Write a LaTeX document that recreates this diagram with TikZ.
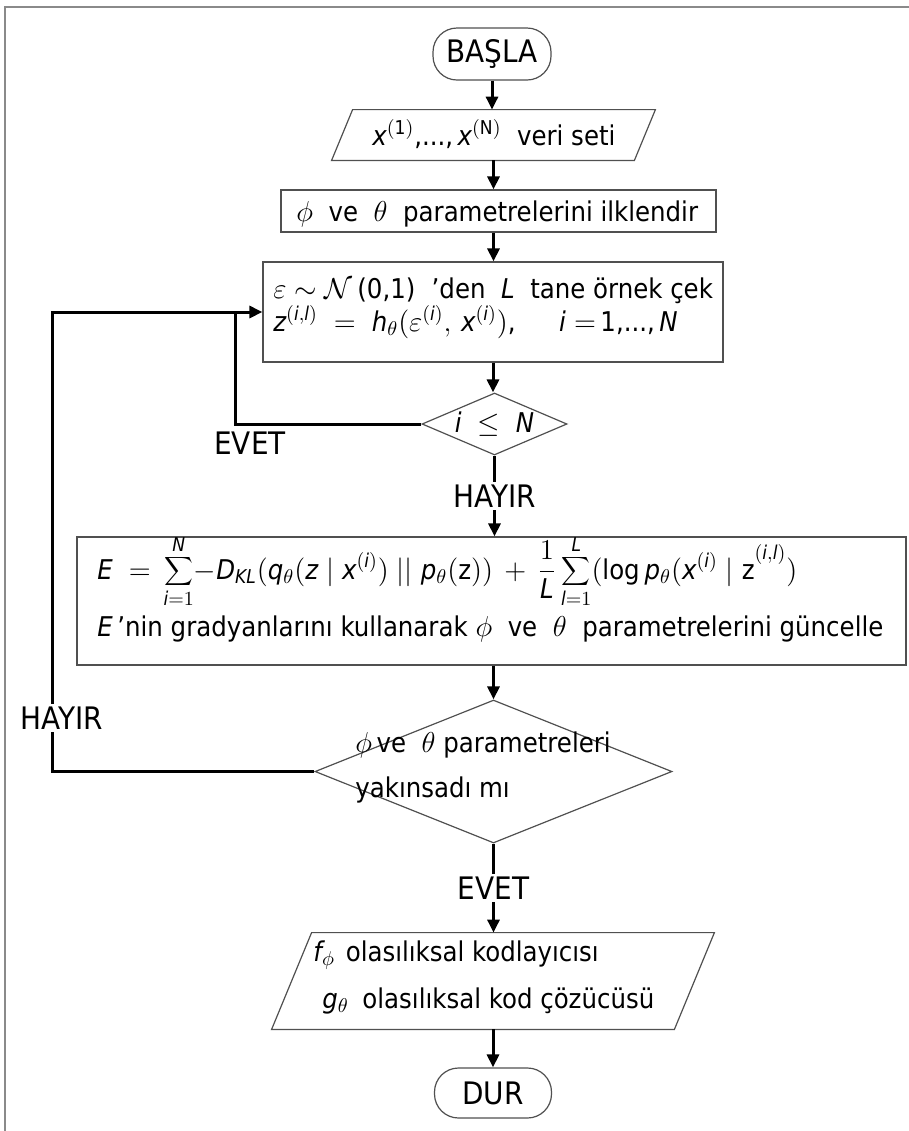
\documentclass[tikz,border=0pt]{standalone}
\usepackage{fontspec}
\setmainfont{DejaVu Sans Condensed}
\usetikzlibrary{shapes.geometric,arrows.meta}
\definecolor{boxgray}{HTML}{505050}
\definecolor{framegray}{HTML}{8A8A8A}
\newcommand\mtext{\fontsize{13.6}{16}\selectfont}
\newcommand\ltext{\fontsize{15.5}{18}\selectfont}
\newcommand\iv[1]{\mathit{#1}}

\begin{document}
\begin{tikzpicture}[x=0.5pt,y=-0.5pt,
  boxline/.style={draw=boxgray, line width=0.6pt},
  box/.style={boxline, fill=white, inner sep=0pt},
  term/.style={box, rectangle, rounded corners=12pt, minimum width=59pt, minimum height=26pt, font=\ltext},
  proc/.style={box, rectangle, font=\mtext},
  frame/.style={rectangle, inner sep=0pt},
  dec/.style={box, diamond},
  txt/.style={inner sep=0pt, font=\mtext, anchor=base west},
  lbl/.style={inner sep=1.5pt, font=\ltext},
  flow/.style={line width=1.5pt, -{Triangle[length=6.5pt,width=6pt]}},
  link/.style={line width=1.5pt}
]
\useasboundingbox (0,0) rectangle (909,1131);

% page frame
\draw[framegray, line width=0.6pt] (5,1131) -- (5,7) -- (909,7);

% start
\node[term] (start) at (492,54) {BAŞLA};

% data set (parallelogram)
\node[frame, minimum width=161.5pt, minimum height=25pt] (data) at (493.5,135) {};
\draw[boxline] (data.south west) -- ([xshift=10.5pt]data.north west) -- (data.north east)
  -- ([xshift=-10.5pt]data.south east) -- cycle;
\node[txt] (datatext) at (372,145)
  {$\iv{x}^{\mathrm{(1)}}$,...,\,$\iv{x}^{\mathrm{(N)}}$\ \ veri seti};

% initialisation
\node[proc, minimum width=217.5pt, minimum height=21pt] (init) at (498.5,211) {};
\node[txt] (inittext) at (296,221) {$\phi$\ \ ve\ \ $\theta$\ \ parametrelerini ilklendir};

% sampling
\node[proc, minimum width=230pt, minimum height=50pt] (sample) at (493,312) {};
\node[txt] (sampleA) at (273,298)
  {$\varepsilon\sim\mathcal{N}$\,(0,1)\hspace{0.6em}'den\ \ $\iv{L}$\ \ tane örnek çek};
\node[txt] (sampleB) at (273,331)
  {$\iv{z}^{(\iv{i},\iv{l})}\;=\;\iv{h}_{\theta}(\varepsilon^{(\iv{i})},\,\iv{x}^{(\iv{i})})$,\hspace{1.6em}$\iv{i}=$\,1,...,\,$\iv{N}$};

% loop test
\node[dec, minimum width=72.5pt, minimum height=31pt] (check1) at (494.5,424) {};
\node[inner sep=0pt, font=\mtext] (check1text) at (check1.center) {$\iv{i}\;\leq\;\iv{N}$};

% parameter update
\node[proc, minimum width=414.5pt, minimum height=64pt] (update) at (491.5,601) {};
\node[txt] (updateA) at (97,579)
  {$\displaystyle \iv{E}\;=\,\sum_{\iv{i}=1}^{\iv{N}}\!-\iv{D}_{\iv{KL}}\bigl(\iv{q}_{\theta}(\iv{z}\;|\;\iv{x}^{(\iv{i})})\;||\;\iv{p}_{\theta}(\mathrm{z})\bigr)\,+\,\frac{1}{\iv{L}}\sum_{\iv{l}=1}^{\iv{L}}\bigl(\log\iv{p}_{\theta}(\iv{x}^{(\iv{i})}\;|\;\mathrm{z}^{(\iv{i},\iv{l})}\bigr)$};
\node[txt] (updateB) at (97,636)
  {$\iv{E}$\,'nin gradyanlarını kullanarak\ $\phi$\ \ ve\ \ $\theta$\ \ parametrelerini güncelle};

% convergence test
\node[dec, minimum width=178.5pt, minimum height=71.5pt] (check2) at (493.5,771.5) {};
\node[txt] (check2A) at (355,752) {$\phi$\,ve\ \ $\theta$\ parametreleri};
\node[txt] (check2B) at (355,797) {yakınsadı mı};

% output (parallelogram)
\node[frame, minimum width=221pt, minimum height=48pt] (out) at (493,981) {};
\draw[boxline, fill=white] (out.south west) -- ([xshift=20pt]out.north west) -- (out.north east)
  -- ([xshift=-20pt]out.south east) -- cycle;
\node[txt] (outA) at (313,961) {$\iv{f}_{\phi}$\hspace{0.4em}olasılıksal kodlayıcısı};
\node[txt] (outB) at (322,1008) {$\iv{g}_{\theta}$\hspace{0.5em}olasılıksal kod çözücüsü};

% stop
\node[term, minimum width=58.5pt, minimum height=25pt] (stop) at (493,1093) {DUR};

% main flow
\draw[flow] (start.south) -- (start.south |- data.north);
\draw[flow] (data.south) -- (data.south |- init.north);
\draw[flow] (init.south -| data.south) -- (data.south |- sample.north);
\draw[flow] (sample.south) -- (sample.south |- check1.north);
\draw[flow] (check1.south) -- (check1.south |- update.north)
  node[lbl, fill=white, pos=0.5] (no1) {HAYIR};
\draw[flow] (update.south -| check2.north) -- (check2.north);
\draw[flow] (check2.south) -- (check2.south |- out.north)
  node[lbl, fill=white, pos=0.5] (yes2) {EVET};
\draw[flow] (out.south) -- (out.south |- stop.north);

% loop back while i <= N
\coordinate (loopA) at (235,0);
\draw[link] (check1.west) -- (check1.west -| loopA) -- (sample.west -| loopA);
\node[lbl] (yes1) at (250,443) {EVET};

% loop back until convergence
\coordinate (loopB) at (52,0);
\draw[flow] (check2.west) -- (check2.west -| loopB) -- (sample.west -| loopB) -- (sample.west);
\node[lbl, fill=white] (no2) at (62,718) {HAYIR};
\end{tikzpicture}
\end{document}
